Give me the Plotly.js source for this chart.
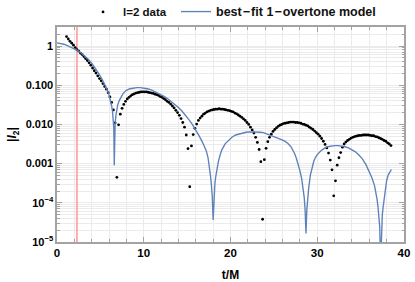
<!DOCTYPE html>
<html>
<head>
<meta charset="utf-8">
<script src="https://cdn.plot.ly/plotly-3.0.1.min.js"></script>
<style>html,body{margin:0;padding:0;background:#fff;}#chart{width:415px;height:282px;}</style>
</head>
<body>
<div id="chart"></div>
<script>
// l=2 data (black dots)
const dataT = [1.1,1.3,1.5,1.7,1.9,2.1,2.3,2.5,2.7,2.9,3.1,3.3,3.5,3.7,3.9,4.1,4.3,4.5,4.7,4.9,
5.1,5.3,5.5,5.7,5.9,6.1,6.3,6.5,6.7,6.9,7.1,7.3,7.5,7.7,7.9,8.1,8.3,8.5,8.7,8.9,
9.1,9.3,9.5,9.7,9.9,10.1,10.3,10.5,10.7,10.9,11.1,11.3,11.5,11.7,11.9,12.1,12.3,12.5,12.7,12.9,
13.1,13.3,13.5,13.7,13.9,14.1,14.3,14.5,14.7,14.9,15.1,15.3,15.5,15.7,15.9,16.1,16.3,16.5,16.7,16.9,
17.1,17.3,17.5,17.7,17.9,18.1,18.3,18.5,18.7,18.9,19.1,19.3,19.5,19.7,19.9,20.1,20.3,20.5,20.7,20.9,
21.1,21.3,21.5,21.7,21.9,22.1,22.3,22.5,22.7,22.9,23.1,23.3,23.5,23.7,23.9,24.1,24.3,24.5,24.7,24.9,
25.1,25.3,25.5,25.7,25.9,26.1,26.3,26.5,26.7,26.9,27.1,27.3,27.5,27.7,27.9,28.1,28.3,28.5,28.7,28.9,
29.1,29.3,29.5,29.7,29.9,30.1,30.3,30.5,30.7,30.9,31.1,31.3,31.5,31.7,31.9,32.1,32.3,32.5,32.7,32.9,
33.1,33.3,33.5,33.7,33.9,34.1,34.3,34.5,34.7,34.9,35.1,35.3,35.5,35.7,35.9,36.1,36.3,36.5,36.7,36.9,
37.1,37.3,37.5,37.7,37.9,38.1,38.3,38.5];
const dataAmp = [1.74,1.51,1.32,1.18,1.05,0.912,0.813,0.741,0.661,0.603,0.537,0.479,0.427,0.372,0.324,0.275,0.234,0.204,0.174,0.148,
0.129,0.110,0.0933,0.0794,0.0646,0.0501,0.0363,0.0234,0.0110,4.47e-4,9.77e-3,0.0182,0.0257,0.0324,0.0389,0.0447,0.0490,0.0537,0.0575,0.0603,
0.0631,0.0646,0.0661,0.0676,0.0676,0.0676,0.0676,0.0661,0.0646,0.0631,0.0617,0.0589,0.0575,0.0550,0.0513,0.0490,0.0457,0.0427,0.0389,0.0363,
0.0331,0.0295,0.0263,0.0229,0.0200,0.0170,0.0141,0.0112,8.51e-3,5.37e-3,2.40e-3,2.57e-4,2.82e-3,5.50e-3,7.94e-3,0.0102,0.0126,0.0145,0.0162,0.0182,
0.0195,0.0209,0.0219,0.0229,0.0234,0.0240,0.0245,0.0245,0.0251,0.0245,0.0245,0.0240,0.0234,0.0229,0.0224,0.0214,0.0209,0.0195,0.0186,0.0174,
0.0162,0.0151,0.0138,0.0126,0.0112,0.0100,8.51e-3,7.24e-3,6.03e-3,4.68e-3,3.47e-3,2.29e-3,1.12e-3,3.80e-5,1.26e-3,2.45e-3,3.63e-3,4.68e-3,5.62e-3,6.61e-3,
7.41e-3,8.13e-3,8.91e-3,9.55e-3,0.0100,0.0105,0.0107,0.0110,0.0112,0.0115,0.0115,0.0115,0.0112,0.0112,0.0110,0.0107,0.0102,0.0100,9.55e-3,9.12e-3,
8.51e-3,7.94e-3,7.41e-3,6.76e-3,6.17e-3,5.62e-3,5.01e-3,4.37e-3,3.72e-3,3.09e-3,2.51e-3,1.86e-3,1.23e-3,6.92e-4,1.51e-4,3.63e-4,9.12e-4,1.41e-3,1.91e-3,2.63e-3,
3.16e-3,3.55e-3,3.89e-3,4.17e-3,4.47e-3,4.68e-3,4.90e-3,5.01e-3,5.13e-3,5.25e-3,5.25e-3,5.37e-3,5.37e-3,5.37e-3,5.37e-3,5.25e-3,5.13e-3,5.13e-3,4.90e-3,4.79e-3,
4.57e-3,4.37e-3,4.17e-3,3.89e-3,3.72e-3,3.39e-3,3.16e-3,2.88e-3];

// best-fit 1-overtone model (blue line)
const modelT = [0.0,0.4,0.8,1.2,1.6,2.0,2.4,2.8,3.2,3.6,4.0,4.4,4.8,5.2,5.6,5.8,6.0,6.2,6.3,6.4,
6.5,6.55,6.6,6.65,6.7,6.8,6.9,7.0,7.2,7.4,7.6,7.8,8.0,8.4,8.8,9.2,9.6,10.0,10.4,10.8,
11.2,11.6,12.0,12.4,12.8,13.2,13.6,14.0,14.4,14.8,15.2,15.6,16.0,16.4,16.8,17.0,17.2,17.4,17.6,17.7,
17.8,17.9,18.0,18.1,18.2,18.3,18.4,18.6,18.8,19.0,19.4,19.8,20.2,20.6,21.0,21.4,21.8,22.2,22.6,23.0,
23.4,23.8,24.2,24.6,25.0,25.4,25.8,26.2,26.6,27.0,27.2,27.4,27.6,27.8,28.0,28.2,28.4,28.5,28.6,28.7,
28.8,28.9,29.0,29.2,29.4,29.6,29.8,30.0,30.4,30.8,31.2,31.6,32.0,32.4,32.8,33.2,33.6,34.0,34.4,34.8,
35.2,35.6,36.0,36.3,36.6,36.8,36.9,37.0,37.1,37.2,37.3,37.4,37.5,37.6,37.7,37.8,37.9,38.0,38.2,38.4,38.55];
const modelAmp = [1.20,1.17,1.11,1.02,0.933,0.851,0.759,0.661,0.562,0.457,0.363,0.275,0.200,0.141,0.0955,0.0759,0.0562,0.0380,0.0295,0.0214,
0.0132,7.94e-3,9.12e-4,6.31e-3,0.0105,0.0174,0.0251,0.0316,0.0417,0.0513,0.0603,0.0676,0.0741,0.0813,0.0851,0.0871,0.0871,0.0851,0.0813,0.0776,
0.0708,0.0646,0.0575,0.0513,0.0447,0.0380,0.0324,0.0269,0.0219,0.0174,0.0132,0.0100,7.24e-3,5.01e-3,3.39e-3,2.75e-3,2.14e-3,1.45e-3,7.59e-4,4.79e-4,
2.82e-4,1.41e-4,3.63e-5,1.48e-4,3.02e-4,4.68e-4,6.61e-4,1.12e-3,1.66e-3,2.24e-3,3.24e-3,4.07e-3,4.79e-3,5.37e-3,5.75e-3,6.03e-3,6.31e-3,6.46e-3,6.46e-3,6.46e-3,
6.31e-3,6.17e-3,5.75e-3,5.37e-3,5.01e-3,4.57e-3,4.17e-3,3.80e-3,3.31e-3,2.63e-3,2.24e-3,1.78e-3,1.35e-3,9.77e-4,6.61e-4,4.17e-4,2.14e-4,1.35e-4,6.61e-5,1.66e-5,
6.61e-5,1.35e-4,2.24e-4,5.01e-4,8.51e-4,1.15e-3,1.45e-3,1.70e-3,2.09e-3,2.45e-3,2.69e-3,2.82e-3,2.88e-3,2.88e-3,2.82e-3,2.69e-3,2.51e-3,2.29e-3,2.00e-3,1.66e-3,
1.32e-3,9.55e-4,6.31e-4,4.37e-4,2.75e-4,1.66e-4,1.20e-4,7.94e-5,5.01e-5,2.51e-5,2.51e-6,2.51e-5,5.01e-5,7.94e-5,1.26e-4,1.91e-4,2.75e-4,3.72e-4,5.25e-4,6.46e-4,7.08e-4];

// fit start time (red vertical line)
const fitStartT = 2.3;

// axis ticks
const xTickVals = [0, 10, 20, 30, 40];
const xTickText = ['0', '10', '20', '30', '40'];
const yTickVals = [1e-5, 1e-4, 1e-3, 1e-2, 1e-1, 1];
const yTickText = ['10<sup>\u22125</sup>', '10<sup>\u22124</sup>', '0.001', '0.010', '0.100', '1'];
const yDecades = [1e-5, 1e-4, 1e-3, 1e-2, 1e-1, 1];
const yMinorDigits = [2, 3, 4, 5, 6, 7, 8, 9];

const yMinorVals = [];
yDecades.forEach(d => yMinorDigits.forEach(k => yMinorVals.push(d * k)));

const FONT = 'Liberation Sans, Arial, sans-serif';
const axisGray = '#a3a3a3';
const gridGray = '#ebebeb';

const traces = [
  {
    x: [fitStartT, fitStartT], y: [1e-6, 10], type: 'scatter', mode: 'lines',
    line: {color: '#ff9c9c', width: 1.6}, showlegend: false, hoverinfo: 'skip'
  },
  {
    x: dataT, y: dataAmp, type: 'scatter', mode: 'markers', name: 'l=2 data',
    marker: {color: '#000000', size: 2.8}, legend: 'legend'
  },
  {
    x: modelT, y: modelAmp, type: 'scatter', mode: 'lines',
    name: 'best\u200a\u2212\u200afit 1\u200a\u2212\u200aovertone model',
    line: {color: '#5d81b9', width: 1.35}, legend: 'legend2'
  }
];

const layout = {
  width: 415, height: 282,
  margin: {l: 57, r: 11, t: 27, b: 40, autoexpand: false},
  paper_bgcolor: '#ffffff', plot_bgcolor: '#ffffff',
  font: {family: FONT, size: 11, color: '#000', weight: 'bold'},
  showlegend: true,
  legend: {
    orientation: 'h', x: 0.075, xanchor: 'left', y: 1.07, yanchor: 'middle',
    font: {family: FONT, size: 11.5, color: '#111', weight: 'bold'}, itemwidth: 30, bgcolor: 'rgba(0,0,0,0)'
  },
  legend2: {
    orientation: 'h', x: 0.343, xanchor: 'left', y: 1.07, yanchor: 'middle',
    font: {family: FONT, size: 12.5, color: '#111', weight: 'bold'}, itemwidth: 30, bgcolor: 'rgba(0,0,0,0)'
  },
  xaxis: {
    range: [0, 40], tickmode: 'array', tickvals: xTickVals, ticktext: xTickText,
    ticks: 'inside', ticklen: 5, tickwidth: 1, tickcolor: axisGray,
    showline: true, linecolor: axisGray, linewidth: 1.6, mirror: 'ticks',
    showgrid: true, gridcolor: gridGray, gridwidth: 1, zeroline: false,
    tickfont: {family: FONT, size: 11.5, color: '#000', weight: 'bold'},
    minor: {dtick: 2, ticks: 'inside', ticklen: 3, tickcolor: axisGray, showgrid: true, gridcolor: gridGray},
    title: {text: 't/M', font: {family: FONT, size: 12, color: '#000', weight: 'bold'}, standoff: 14}
  },
  yaxis: {
    type: 'log', range: [-5, 0.485], tickmode: 'array', tickvals: yTickVals, ticktext: yTickText,
    ticks: 'inside', ticklen: 5, tickwidth: 1, tickcolor: axisGray,
    showline: true, linecolor: axisGray, linewidth: 1.6, mirror: 'ticks',
    showgrid: true, gridcolor: gridGray, gridwidth: 1, zeroline: false,
    tickfont: {family: FONT, size: 11, color: '#000', weight: 'bold'},
    minor: {tickmode: 'array', tickvals: yMinorVals, ticks: 'inside', ticklen: 2.5, tickcolor: axisGray, showgrid: true, gridcolor: gridGray},
    title: {text: '|<i>I</i><sub>2</sub>|', font: {family: FONT, size: 12, color: '#000', weight: 'bold'}, standoff: 6}
  }
};

Plotly.newPlot('chart', traces, layout, {displayModeBar: false, staticPlot: true});
</script>
</body>
</html>
